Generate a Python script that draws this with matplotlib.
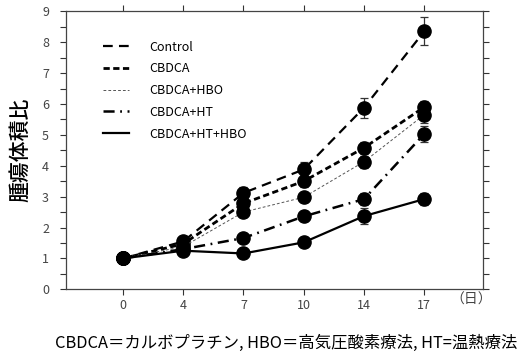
import matplotlib
matplotlib.use("Agg")
import matplotlib.pyplot as plt
from matplotlib.lines import Line2D
from matplotlib.ticker import MultipleLocator

plt.rcParams['font.family'] = ['Noto Sans CJK JP', 'DejaVu Sans']
plt.rcParams['lines.scale_dashes'] = False

days = ["0", "4", "7", "10", "14", "17"]
labels = ["Control", "CBDCA", "CBDCA+HBO", "CBDCA+HT", "CBDCA+HT+HBO"]

control = [1.0, 1.55, 3.12, 3.88, 5.88, 8.35]
cbdca = [1.0, 1.47, 2.78, 3.5, 4.58, 5.9]
cbdca_hbo = [1.0, 1.38, 2.5, 2.98, 4.13, 5.65]
cbdca_ht = [1.0, 1.3, 1.66, 2.36, 2.92, 5.03]
cbdca_ht_hbo = [1.0, 1.25, 1.16, 1.52, 2.37, 2.92]

control_err = [0.0, 0.15, 0.2, 0.25, 0.32, 0.45]
cbdca_err = [0.0, 0.12, 0.15, 0.2, 0.2, 0.2]
cbdca_hbo_err = [0.0, 0.1, 0.15, 0.15, 0.2, 0.25]
cbdca_ht_err = [0.0, 0.1, 0.12, 0.15, 0.2, 0.25]
cbdca_ht_hbo_err = [0.0, 0.1, 0.1, 0.12, 0.25, 0.2]

series = [control, cbdca, cbdca_hbo, cbdca_ht, cbdca_ht_hbo]
errors = [control_err, cbdca_err, cbdca_hbo_err, cbdca_ht_err, cbdca_ht_hbo_err]
styles = [
    dict(color="black", lw=1.6, dashes=(7, 4.5)),
    dict(color="black", lw=2.0, dashes=(4.5, 2.5)),
    dict(color="#555555", lw=0.7, dashes=(2, 1.5)),
    dict(color="black", lw=1.8, dashes=(8, 4, 1.3, 4)),
    dict(color="black", lw=1.6, linestyle="-"),
]

fig = plt.figure(figsize=(5.22, 3.58), dpi=100)
ax = fig.add_axes([0.1259, 0.1919, 0.7988, 0.7765])

x = list(range(len(days)))
for ys, es, st in zip(series, errors, styles):
    ax.errorbar(x, ys, yerr=es, fmt="none", ecolor="#333333", elinewidth=0.9,
                capsize=3, capthick=0.9, zorder=2)
    ax.plot(x, ys, marker="o", markersize=9.5, markerfacecolor="black",
            markeredgecolor="black", zorder=3, **st)

ax.set_xlim(-0.95, 5.97)
ax.set_ylim(0, 9)
ax.set_xticks(x)
ax.set_xticklabels(days)
ax.yaxis.set_major_locator(MultipleLocator(1))
ax.yaxis.set_minor_locator(MultipleLocator(0.5))
ax.tick_params(axis="both", which="both", direction="out", length=4, width=0.8,
               labelsize=9, colors="#333333", labelcolor="#444444")
ax.tick_params(axis="y", which="both", right=True, pad=8)
ax.tick_params(axis="x", top=True, pad=3)
for s in ax.spines.values():
    s.set_linewidth(0.9)
    s.set_color("#444444")

ax.set_ylabel("腫瘍体積比", fontsize=15, fontweight="medium", labelpad=8)
fig.text(0.902, 0.162, "（日）", fontsize=10, ha="center", va="center", color="#444444")
fig.text(0.548, 0.042, "CBDCA＝カルボプラチン, HBO＝高気圧酸素療法, HT=温熱療法",
         fontsize=11.8, ha="center", va="center")

handles = [Line2D([], [], **st) for st in styles]
ax.legend(handles, labels, loc="upper left", bbox_to_anchor=(0.09, 0.895),
          frameon=False, fontsize=9, handlelength=2.1, handletextpad=1.6,
          labelspacing=0.7, borderpad=0, borderaxespad=0)

fig.savefig("out.png", dpi=100)
